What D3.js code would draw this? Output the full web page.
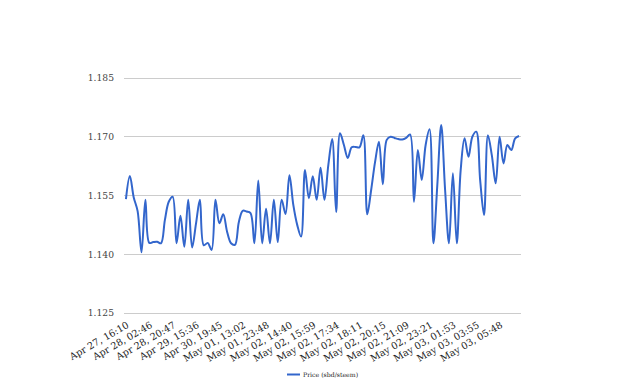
<!DOCTYPE html>
<html>
<head>
<meta charset="utf-8">
<script src="https://cdn.jsdelivr.net/npm/d3@7"></script>
<style>
  html, body { margin: 0; padding: 0; background: #fff; }
  svg { display: block; }
  svg text { font-family: "DejaVu Serif", serif !important; }
</style>
</head>
<body>
<svg id="chart" width="640" height="391"></svg>
<script>
// ---- data ----
const seriesName = "Price (sbd/steem)";
const tickLabels = [
  "Apr 27, 16:10", "Apr 28, 02:46", "Apr 28, 20:47", "Apr 29, 15:36",
  "Apr 30, 19:45", "May 01, 13:02", "May 01, 23:48", "May 02, 14:40",
  "May 02, 15:59", "May 02, 17:34", "May 02, 18:11", "May 02, 20:15",
  "May 02, 21:09", "May 02, 23:21", "May 03, 01:53", "May 03, 03:55",
  "May 03, 05:48"
];
const labelEvery = 6;
const prices = [
  1.1541, 1.1600, 1.1545, 1.1510, 1.1405, 1.1539, 1.1429, 1.1431, 1.1432, 1.1428,
  1.1487, 1.1534, 1.1547, 1.1428, 1.1498, 1.1419, 1.1539, 1.1417, 1.1478, 1.1539,
  1.1423, 1.1429, 1.1411, 1.1539, 1.1479, 1.1502, 1.1457, 1.1428, 1.1424, 1.1482,
  1.1511, 1.1509, 1.1505, 1.1428, 1.1588, 1.1428, 1.1516, 1.1428, 1.1539, 1.1431,
  1.1539, 1.1503, 1.1602, 1.1526, 1.1475, 1.1445, 1.1615, 1.1543, 1.1599, 1.1539,
  1.1621, 1.1539, 1.1628, 1.1694, 1.1508, 1.1709, 1.1679, 1.1646, 1.1673, 1.1674,
  1.1673, 1.1704, 1.1502, 1.1564, 1.1635, 1.1687, 1.1579, 1.1692, 1.1700, 1.1697,
  1.1694, 1.1693, 1.1697, 1.1706, 1.1534, 1.1666, 1.1590, 1.1679, 1.1719, 1.1428,
  1.1577, 1.1730, 1.1564, 1.1428, 1.1607, 1.1428, 1.1615, 1.1696, 1.1649, 1.1700,
  1.1713, 1.1590, 1.1500, 1.1704, 1.1653, 1.1581, 1.1700, 1.1632, 1.1679, 1.1666,
  1.1696, 1.1702
];
const yTicks = [1.125, 1.140, 1.155, 1.170, 1.185];

// ---- layout ----
const FONT = "'DejaVu Serif', serif";
const svg = d3.select("#chart");
const plot = { left: 124, right: 521, top: 78, bottom: 313 };
const idx = prices.map((d, i) => i);

const x = d3.scalePoint().domain(idx).range([plot.left, plot.right]).padding(0.5);
const y = d3.scaleLinear().domain([1.125, 1.185]).range([plot.bottom, plot.top]);

// gridlines
svg.append("g")
  .selectAll("line")
  .data(yTicks)
  .join("line")
  .attr("x1", plot.left).attr("x2", plot.right)
  .attr("y1", d => y(d)).attr("y2", d => y(d))
  .attr("stroke", "#cccccc").attr("stroke-width", 1)
  .attr("shape-rendering", "crispEdges");

// y axis labels
const yAxis = d3.axisLeft(y).tickValues(yTicks).tickFormat(d3.format(".3f")).tickSize(0).tickPadding(10);
const gy = svg.append("g").attr("transform", `translate(${plot.left},0)`).call(yAxis)
  .attr("font-family", FONT).attr("font-size", 9.2);
gy.select(".domain").remove();
gy.selectAll("text").attr("fill", "#444");

// x axis labels
const xTickVals = idx.filter(i => i % labelEvery === 0);
const xAxis = d3.axisBottom(x).tickValues(xTickVals)
  .tickFormat(i => tickLabels[i / labelEvery]).tickSize(0);
const gx = svg.append("g").attr("transform", `translate(0,${plot.bottom})`).call(xAxis)
  .attr("font-family", FONT).attr("font-size", 9.6);
gx.select(".domain").remove();
gx.selectAll(".tick text")
  .attr("fill", "#222")
  .attr("text-anchor", "end")
  .attr("x", 0).attr("y", 0).attr("dy", "0.35em")
  .attr("transform", "translate(1.5,11) rotate(-30)");

// line
const line = d3.line()
  .x((d, i) => x(i))
  .y(d => y(d))
  .curve(d3.curveCatmullRom.alpha(0.5));

svg.append("path")
  .datum(prices)
  .attr("fill", "none")
  .attr("stroke", "#3366cc")
  .attr("stroke-width", 2)
  .attr("stroke-linejoin", "round")
  .attr("d", line);

// legend
const lg = svg.append("g").attr("transform", "translate(287,374.5)");
lg.append("line").attr("x1", 0).attr("x2", 13).attr("y1", 0).attr("y2", 0)
  .attr("stroke", "#3366cc").attr("stroke-width", 2);
lg.append("text").attr("x", 16).attr("y", 0).attr("dy", "0.35em")
  .attr("font-family", FONT).attr("font-size", 6.2)
  .attr("fill", "#222").text(seriesName);
</script>
</body>
</html>
